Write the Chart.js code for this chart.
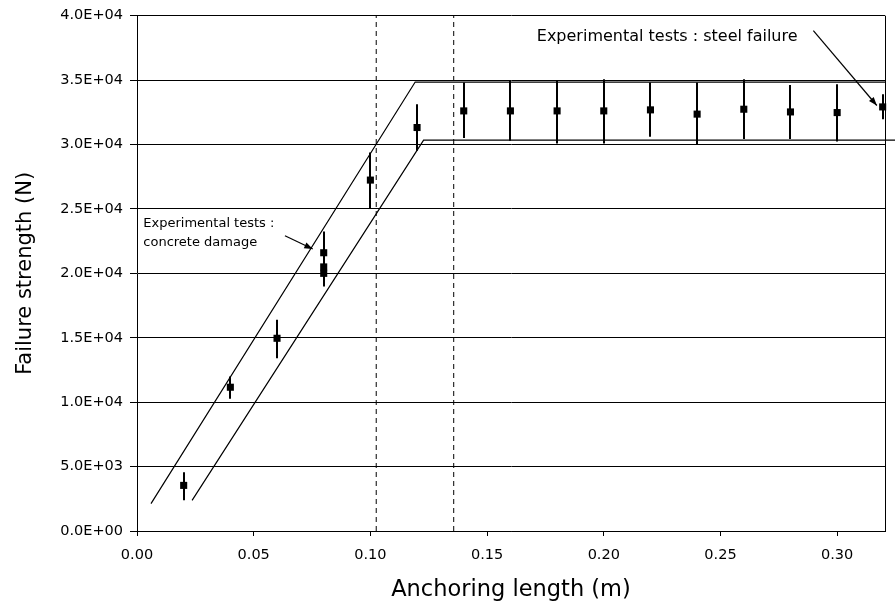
<!DOCTYPE html>
<html>
<head>
<meta charset="utf-8">
<script src="https://cdn.jsdelivr.net/npm/chart.js@4.4.1/dist/chart.umd.min.js"></script>
<style>
  html, body { margin: 0; padding: 0; background: #fff; }
  #wrap { width: 895px; height: 609px; position: relative; }
</style>
</head>
<body>
<div id="wrap"><canvas id="failureChart"></canvas></div>
<script>
// measured tests: anchoring length (m), failure strength (N), error bar ends
const testLen  = [0.02, 0.04, 0.06, 0.08, 0.08, 0.08, 0.10, 0.12, 0.14, 0.16, 0.18, 0.20, 0.22, 0.24, 0.26, 0.28, 0.30, 0.3195];
const testVal  = [3540, 11160, 14960, 21600, 20500, 20000, 27240, 31320, 32610, 32610, 32610, 32610, 32690, 32360, 32740, 32530, 32480, 32920];
const errLow   = [2380, 10260, 13410, 20000, 19300, 18970, 25040, 29510, 30500, 30290, 30080, 30080, 30600, 29980, 30420, 30420, 30230, 31970];
const errHigh  = [4570, 12000, 16390, 23250, 21600, 21200, 29380, 33130, 34810, 34990, 34990, 35070, 34810, 34810, 35070, 34630, 34680, 33910];

// model envelopes (upper / lower bound)
const upperLen = [0.006, 0.1192, 0.3205];
const upperVal = [2120, 34850, 34850];
const lowerLen = [0.0236, 0.1228, 0.325];
const lowerVal = [2380, 30340, 30340];

// dashed limits
const limitLen = [0.1025, 0.1357];

const xTicks = [0, 0.05, 0.10, 0.15, 0.20, 0.25, 0.30];
const yTicks = [0, 5000, 10000, 15000, 20000, 25000, 30000, 35000, 40000];
const xMax = 0.3205;
const yMax = 40000;

const pts = (xs, ys) => xs.map((v, i) => ({ x: v, y: ys[i] }));

function sci(v) {
  if (v === 0) return '0.0E+00';
  const e = Math.floor(Math.log10(v));
  const m = v / Math.pow(10, e);
  return m.toFixed(1) + 'E+' + String(e).padStart(2, '0');
}

function arrow(ctx, x0, y0, x1, y1) {
  const a = Math.atan2(y1 - y0, x1 - x0);
  ctx.beginPath();
  ctx.moveTo(x0, y0);
  ctx.lineTo(x1, y1);
  ctx.stroke();
  ctx.beginPath();
  ctx.moveTo(x1, y1);
  ctx.lineTo(x1 - 9 * Math.cos(a - 0.35), y1 - 9 * Math.sin(a - 0.35));
  ctx.lineTo(x1 - 9 * Math.cos(a + 0.35), y1 - 9 * Math.sin(a + 0.35));
  ctx.closePath();
  ctx.fill();
}

const errorBars = {
  id: 'errorBars',
  beforeDatasetsDraw(chart) {
    const { ctx, scales: { x, y } } = chart;
    ctx.save();
    ctx.strokeStyle = '#000';
    ctx.lineWidth = 2;
    testLen.forEach((l, i) => {
      const px = Math.round(x.getPixelForValue(l));
      ctx.beginPath();
      ctx.moveTo(px, y.getPixelForValue(errLow[i]));
      ctx.lineTo(px, y.getPixelForValue(errHigh[i]));
      ctx.stroke();
    });
    ctx.restore();
  }
};

const notes = {
  id: 'notes',
  afterDraw(chart) {
    const { ctx, chartArea: a, scales: { x, y } } = chart;
    ctx.save();
    // right frame
    ctx.strokeStyle = '#000';
    ctx.lineWidth = 1;
    ctx.beginPath();
    ctx.moveTo(a.right + 0.5, a.top);
    ctx.lineTo(a.right + 0.5, a.bottom);
    ctx.stroke();

    ctx.fillStyle = '#000';
    ctx.textBaseline = 'middle';
    ctx.textAlign = 'left';
    ctx.font = '13px "DejaVu Sans"';
    ctx.fillText('Experimental tests :', x.getPixelForValue(0.0027), y.getPixelForValue(23850));
    ctx.fillText('concrete damage', x.getPixelForValue(0.0027), y.getPixelForValue(22380));
    ctx.font = '16px "DejaVu Sans"';
    ctx.fillText('Experimental tests : steel failure', x.getPixelForValue(0.1713), y.getPixelForValue(38320));

    ctx.lineWidth = 1.2;
    arrow(ctx, x.getPixelForValue(0.0634), y.getPixelForValue(22920),
               x.getPixelForValue(0.0753), y.getPixelForValue(21890));
    arrow(ctx, x.getPixelForValue(0.2898), y.getPixelForValue(38840),
               x.getPixelForValue(0.3170), y.getPixelForValue(33030));
    ctx.restore();
  }
};

Chart.defaults.font.family = '"DejaVu Sans", sans-serif';
Chart.defaults.color = '#000';

const limitSets = limitLen.map(l => ({
  data: pts([l, l], [0, yMax]),
  showLine: true,
  borderColor: '#000',
  borderWidth: 1,
  borderDash: [5, 4],
  pointRadius: 0
}));

new Chart(document.getElementById('failureChart'), {
  type: 'scatter',
  data: {
    datasets: [
      {
        label: 'Experimental tests',
        data: pts(testLen, testVal),
        pointStyle: 'rect',
        pointRadius: 5,
        backgroundColor: '#000',
        borderWidth: 0,
        clip: false
      },
      {
        label: 'Upper bound',
        data: pts(upperLen, upperVal),
        showLine: true,
        borderColor: '#000',
        borderWidth: 1.2,
        pointRadius: 0
      },
      {
        label: 'Lower bound',
        data: pts(lowerLen, lowerVal),
        showLine: true,
        borderColor: '#000',
        borderWidth: 1.2,
        pointRadius: 0,
        clip: { left: 0, top: 0, right: 12, bottom: 0 }
      },
      ...limitSets
    ]
  },
  options: {
    responsive: true,
    maintainAspectRatio: false,
    animation: false,
    layout: { padding: { top: 15, right: 10, left: 0, bottom: 0 } },
    plugins: {
      legend: { display: false },
      tooltip: { enabled: false }
    },
    scales: {
      x: {
        type: 'linear',
        min: 0,
        max: xMax,
        afterBuildTicks: (s) => { s.ticks = xTicks.map(v => ({ value: v })); },
        afterFit: (s) => { s.height = 78; },
        ticks: {
          padding: 11,
          font: { size: 14.5 },
          color: '#000',
          callback: (v) => Number(v).toFixed(2)
        },
        grid: { drawOnChartArea: false, tickLength: 5, color: '#000' },
        border: { display: true, color: '#000', width: 1 },
        title: {
          display: true,
          text: 'Anchoring length (m)',
          font: { size: 22.5 },
          color: '#000',
          padding: { top: 0, bottom: 5 }
        }
      },
      y: {
        type: 'linear',
        min: 0,
        max: yMax,
        afterBuildTicks: (s) => { s.ticks = yTicks.map(v => ({ value: v })); },
        afterFit: (s) => { s.width = 137; },
        ticks: {
          padding: 7,
          font: { size: 14.5 },
          color: '#000',
          callback: (v) => sci(v)
        },
        grid: { color: '#000', lineWidth: 1, tickLength: 7 },
        border: { display: true, color: '#000', width: 1 },
        title: {
          display: true,
          text: 'Failure strength (N)',
          font: { size: 21 },
          color: '#000',
          padding: { top: 13, bottom: 0 }
        }
      }
    }
  },
  plugins: [errorBars, notes]
});
</script>
</body>
</html>
